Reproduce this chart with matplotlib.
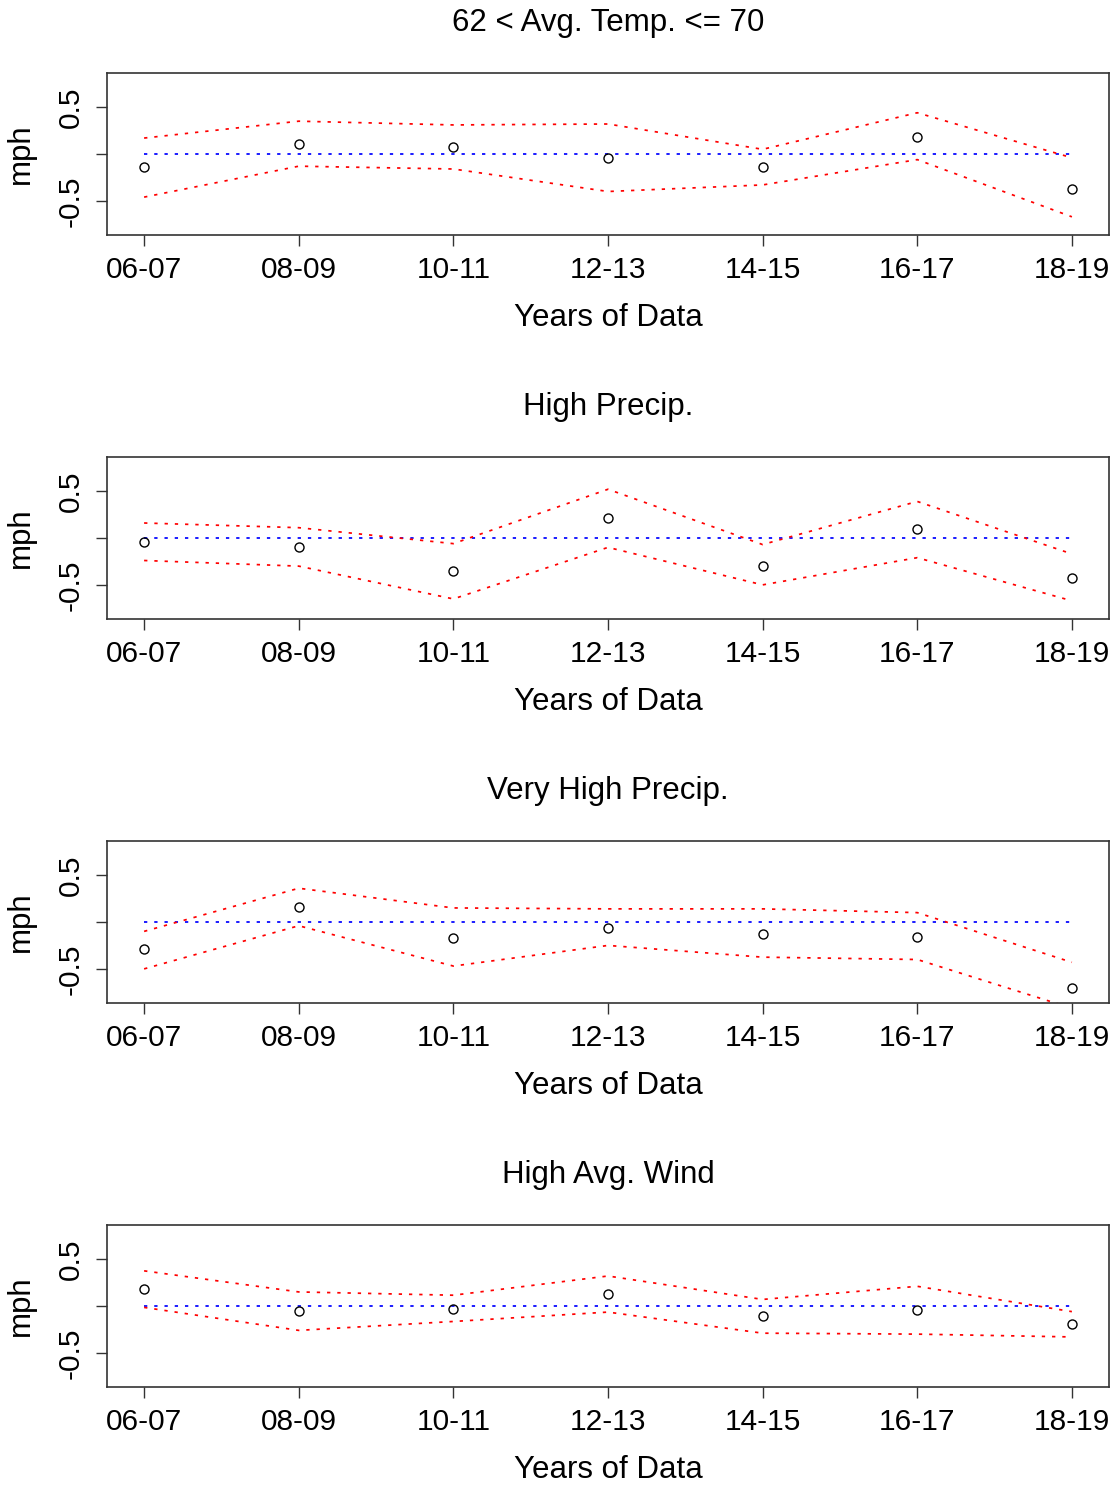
#!/usr/bin/env python3
# coding=utf-8

import numpy as np
import matplotlib
matplotlib.use("Agg")
import matplotlib.pyplot as plt

plt.rcParams['font.family'] = ['Liberation Sans', 'DejaVu Sans']

# data
years = ["06-07", "08-09", "10-11", "12-13", "14-15", "16-17", "18-19"]
titles = ["62 < Avg. Temp. <= 70", "High Precip.", "Very High Precip.", "High Avg. Wind"]

temp_est = [-0.14, 0.11, 0.08, -0.04, -0.14, 0.18, -0.375]
temp_upper = [0.17, 0.35, 0.31, 0.32, 0.05, 0.44, -0.04]
temp_lower = [-0.46, -0.13, -0.16, -0.40, -0.33, -0.06, -0.67]

precip_est = [-0.04, -0.10, -0.35, 0.21, -0.30, 0.10, -0.43]
precip_upper = [0.16, 0.11, -0.06, 0.52, -0.07, 0.39, -0.17]
precip_lower = [-0.24, -0.30, -0.65, -0.10, -0.50, -0.21, -0.67]

vhprecip_est = [-0.29, 0.16, -0.17, -0.06, -0.13, -0.155, -0.70]
vhprecip_upper = [-0.10, 0.36, 0.15, 0.14, 0.14, 0.10, -0.43]
vhprecip_lower = [-0.50, -0.04, -0.47, -0.25, -0.375, -0.40, -0.92]

wind_est = [0.18, -0.05, -0.03, 0.13, -0.11, -0.04, -0.195]
wind_upper = [0.375, 0.15, 0.115, 0.32, 0.07, 0.21, -0.06]
wind_lower = [-0.015, -0.26, -0.165, -0.065, -0.29, -0.30, -0.33]

panels = [
    (temp_est, temp_upper, temp_lower),
    (precip_est, precip_upper, precip_lower),
    (vhprecip_est, vhprecip_upper, vhprecip_lower),
    (wind_est, wind_upper, wind_lower),
]

W, H = 1117, 1487
fig = plt.figure(figsize=(W / 100, H / 100), dpi=100)

x = np.arange(1, len(years) + 1)
dots = (0, (1.9, 4.0))
fs_tick = 21.5
fs_lab = 22.5

ax_left, ax_right = 107, 1109
tops = [73, 457, 841, 1225]
ax_h = 162

for i, (est, up, lo) in enumerate(panels):
    top = tops[i]
    ax = fig.add_axes([ax_left / W, 1 - (top + ax_h) / H,
                       (ax_right - ax_left) / W, ax_h / H])
    ax.plot(x, np.zeros(len(x)), color='blue', lw=1.25, linestyle=dots)
    ax.plot(x, up, color='red', lw=1.25, linestyle=dots)
    ax.plot(x, lo, color='red', lw=1.25, linestyle=dots)
    ax.plot(x, est, 'o', mfc='none', mec='black', ms=6.5, mew=1.0)

    ax.set_xlim(0.76, 7.24)
    ax.set_ylim(-0.864, 0.864)
    ax.set_xticks(x)
    ax.set_xticklabels(years, fontsize=fs_tick)
    ax.set_yticks([-0.5, 0, 0.5])
    ax.set_yticklabels(["-0.5", "", "0.5"], fontsize=fs_tick, rotation=90, va='center')
    ax.tick_params(length=8, width=1.0, pad=7, color='#333333')
    ax.tick_params(axis='y', pad=8)
    for s in ax.spines.values():
        s.set_color('#333333')
        s.set_linewidth(1.2)

    ax.set_title(titles[i], fontsize=fs_lab, pad=30)
    ax.set_xlabel("Years of Data", fontsize=fs_lab, labelpad=14)
    fig.text(21 / W, 1 - (top + 81) / H, "mph", fontsize=fs_lab, rotation=90,
             ha='center', va='center')

fig.savefig("out.png", dpi=100)
